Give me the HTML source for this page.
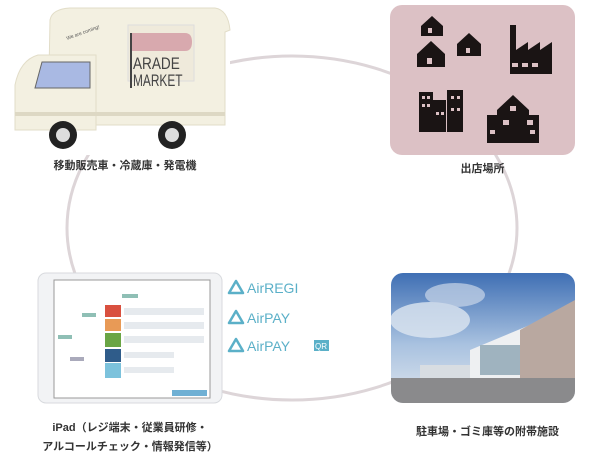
<!DOCTYPE html>
<html><head><meta charset="utf-8"><style>
body{margin:0;width:600px;height:460px;background:#fff;overflow:hidden;position:relative;font-family:"Liberation Sans","Noto Sans CJK JP",sans-serif}
.lb{position:absolute;font-size:11px;color:#333;font-weight:bold;text-align:center;white-space:nowrap}
</style></head><body>
<svg width="600" height="460" style="position:absolute;left:0;top:0">
<defs>
<linearGradient id="sky" x1="0" y1="0" x2="0" y2="1"><stop offset="0" stop-color="#3f6fb4"/><stop offset="0.55" stop-color="#a9c2e0"/><stop offset="1" stop-color="#dfe6ee"/></linearGradient>
<clipPath id="pc"><rect x="391" y="273" width="184" height="130" rx="12"/></clipPath>
</defs>
<ellipse cx="292" cy="228" rx="225" ry="172" fill="none" stroke="#ddd5d8" stroke-width="3"/>
<!-- truck -->
<rect x="15" y="0" width="215" height="155" fill="#fff"/>
<path d="M50 20 Q52 9 70 8 L215 8 Q228 10 230 30 L225 32 L225 125 L48 125 Z" fill="#f3f0e1" stroke="#e2ddc8"/>
<path d="M15 85 Q20 60 38 55 L96 55 L96 130 L15 130 Z" fill="#f3f0e1" stroke="#e2ddc8"/>
<path d="M42 62 L90 62 L90 88 L35 88 Z" fill="#a9b9e3" stroke="#666" stroke-width="1"/>
<rect x="15" y="112" width="210" height="4" fill="#ddd8c4"/>
<rect x="128" y="25" width="66" height="56" fill="#efeadb" stroke="#ddd"/>
<path d="M131 33 L185 33 Q192 33 192 42 Q192 51 185 51 L131 51 Z" fill="#d8a9ae"/>
<rect x="130" y="33" width="2" height="55" fill="#444"/>
<text x="0" y="0" font-size="17" fill="#444" font-family="Liberation Sans" transform="translate(133 69) scale(0.8 1)">ARADE</text>
<text x="0" y="0" font-size="17" fill="#444" font-family="Liberation Sans" transform="translate(133 86) scale(0.7 1)">MARKET</text>
<text x="67" y="40" font-size="5" fill="#555" transform="rotate(-20 67 40)">We are coming!</text>
<circle cx="63" cy="135" r="14" fill="#222"/><circle cx="63" cy="135" r="7" fill="#ddd"/>
<circle cx="172" cy="135" r="14" fill="#222"/><circle cx="172" cy="135" r="7" fill="#ddd"/>
<!-- pink box -->
<rect x="390" y="5" width="185" height="150" rx="12" fill="#dcc1c5"/>
<g fill="#1a1414">
<path d="M421 26 l11 -10 l11 10 v10 h-22z"/><path d="M417 54 l14 -13 l14 13 v13 h-28z"/><path d="M457 44 l12 -11 l12 11 v12 h-24z"/>
<path d="M510 25 h6 v25 l12 -8 v8 l12 -8 v8 l12 -8 v32 h-42z"/>
<rect x="419" y="92" width="14" height="40"/><rect x="432" y="100" width="14" height="32"/><rect x="447" y="90" width="16" height="42"/>
<path d="M497 110 l16 -15 l16 15 v5 h10 v28 h-52 v-28 h10z"/>
</g>
<g fill="#dcc1c5"><rect x="512" y="63" width="6" height="4"/><rect x="522" y="63" width="6" height="4"/><rect x="532" y="63" width="6" height="4"/>
<rect x="422" y="96" width="3" height="3"/><rect x="427" y="96" width="3" height="3"/><rect x="422" y="104" width="3" height="3"/><rect x="427" y="104" width="3" height="3"/><rect x="436" y="112" width="3" height="3"/><rect x="441" y="112" width="3" height="3"/><rect x="451" y="96" width="3" height="3"/><rect x="457" y="96" width="3" height="3"/><rect x="451" y="108" width="3" height="3"/><rect x="457" y="108" width="3" height="3"/>
<rect x="503" y="120" width="6" height="5"/><rect x="527" y="120" width="6" height="5"/><rect x="490" y="130" width="5" height="4"/><rect x="530" y="130" width="5" height="4"/><rect x="510" y="106" width="6" height="5"/>
<rect x="428" y="28" width="4" height="5"/><rect x="427" y="58" width="5" height="6"/><rect x="466" y="48" width="4" height="5"/></g>
<!-- photo -->
<g clip-path="url(#pc)">
<rect x="391" y="273" width="184" height="130" fill="url(#sky)"/>
<ellipse cx="430" cy="320" rx="40" ry="18" fill="#dde6f0" opacity="0.8"/>
<ellipse cx="455" cy="295" rx="30" ry="12" fill="#c9d6e8" opacity="0.7"/>
<path d="M470 350 L530 325 L540 330 L540 380 L470 380Z" fill="#eef0f2"/>
<path d="M520 330 L575 300 L575 385 L520 385Z" fill="#b9a8a0"/>
<rect x="420" y="365" width="50" height="20" fill="#d8dde2"/>
<rect x="391" y="378" width="184" height="25" fill="#8a8a8c"/>
<rect x="480" y="345" width="40" height="30" fill="#9fb3bf"/>
</g>
<!-- ipad -->
<rect x="38" y="273" width="184" height="130" rx="8" fill="#f2f3f5" stroke="#d8dade"/>
<rect x="54" y="280" width="156" height="118" fill="#fff" stroke="#999" stroke-width="1"/>
<rect x="105" y="305" width="16" height="12" fill="#d9503f"/>
<rect x="105" y="319" width="16" height="12" fill="#e89a56"/>
<rect x="105" y="333" width="16" height="14" fill="#6aa545"/>
<rect x="105" y="349" width="16" height="13" fill="#2f5c8a"/>
<rect x="105" y="363" width="16" height="15" fill="#7cc2dc"/>
<g fill="#e6eaee"><rect x="124" y="308" width="80" height="7"/><rect x="124" y="322" width="80" height="7"/><rect x="124" y="336" width="80" height="7"/><rect x="124" y="352" width="50" height="6"/><rect x="124" y="367" width="50" height="6"/></g>
<rect x="172" y="390" width="35" height="6" fill="#6fb0d4"/>
<rect x="122" y="294" width="16" height="4" fill="#8fbfb5"/>
<rect x="82" y="313" width="14" height="4" fill="#8fbfb5"/><rect x="58" y="335" width="14" height="4" fill="#8fbfb5"/><rect x="70" y="357" width="14" height="4" fill="#aab"/>
<g fill="none" stroke="#5bb0c8" stroke-width="2.5" stroke-linejoin="round">
<path d="M236 281 l-7 12 h14z"/><path d="M236 311 l-7 12 h14z"/><path d="M236 339 l-7 12 h14z"/></g>
<g font-family="Liberation Sans" font-size="14" fill="#5bb0c8">
<text x="247" y="293">AirREGI</text><text x="247" y="323">AirPAY</text><text x="247" y="351">AirPAY</text></g>
<rect x="314" y="340" width="15" height="11" fill="#5bb0c8"/>
<text x="315" y="349" font-size="8" fill="#fff" font-family="Liberation Sans">QR</text>
</svg>
<div class="lb" style="left:20px;top:157px;width:210px">移動販売車・冷蔵庫・発電機</div>
<div class="lb" style="left:390px;top:160px;width:185px">出店場所</div>
<div class="lb" style="left:20px;top:419px;width:220px;line-height:19px">iPad（レジ端末・従業員研修・<br>アルコールチェック・情報発信等）</div>
<div class="lb" style="left:390px;top:423px;width:195px">駐車場・ゴミ庫等の附帯施設</div>
</body></html>
